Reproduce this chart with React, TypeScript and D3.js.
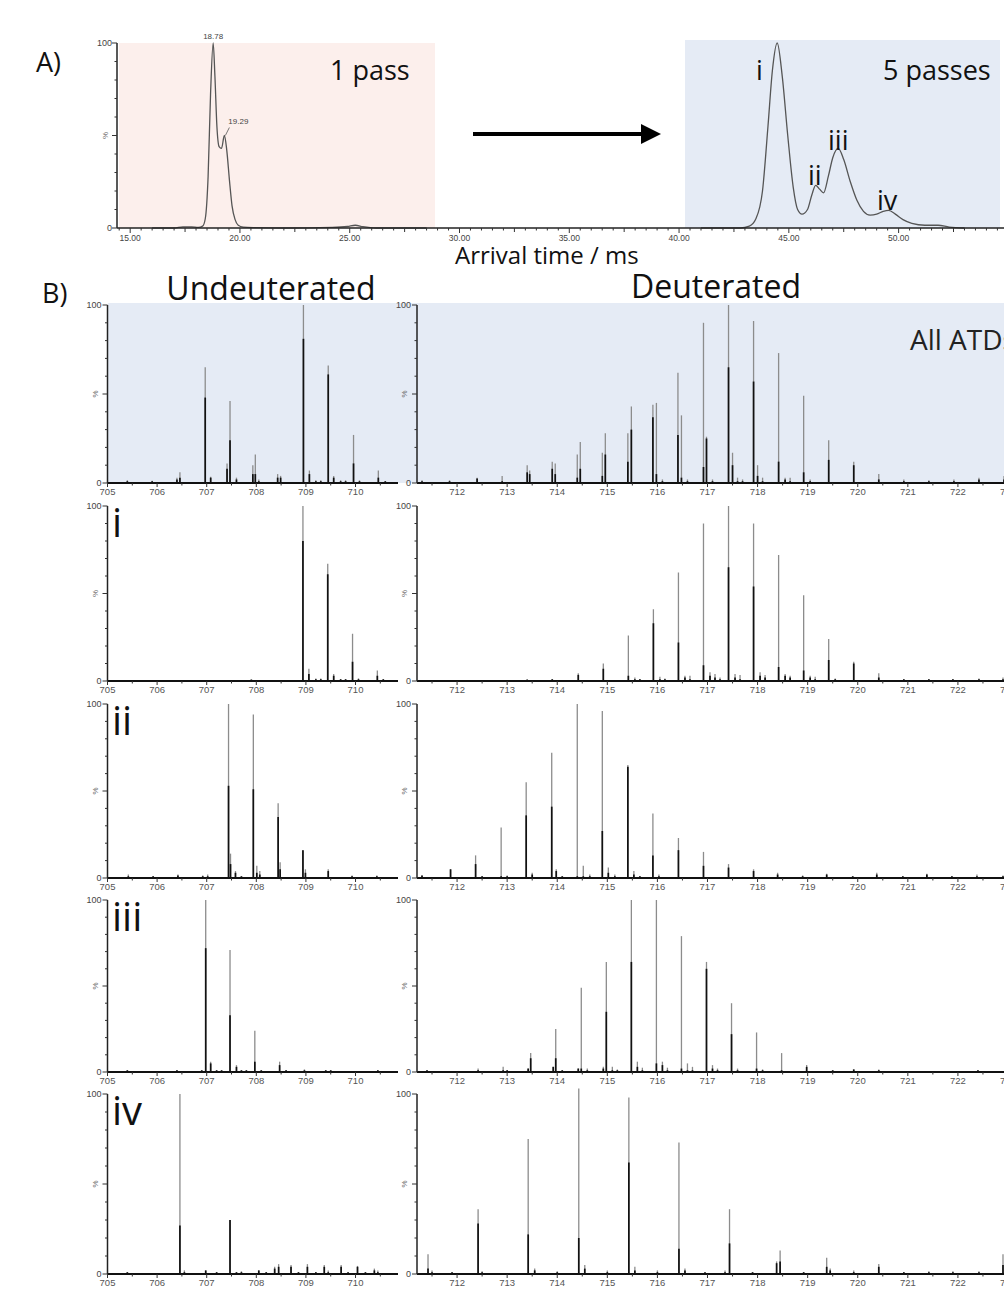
import React from 'react';
import * as d3 from 'd3';

const W = 1004;
const H = 1290;
const TXT = '"Open Sans", sans-serif';
const AX = '"Liberation Sans", Arial, sans-serif';

// ---- panel A: arrival time distributions ----
const onePassTime = [16.0, 17.0, 17.4, 17.8, 18.1, 18.3, 18.42, 18.55, 18.66, 18.78, 18.86, 18.95, 19.05, 19.16, 19.29, 19.4, 19.52, 19.64, 19.78, 19.92, 20.15, 20.6, 22.0, 24.2, 24.9, 25.25, 25.6, 26.2, 28.5];
const onePassInt = [0, 0, 0.6, 0.6, 0.3, 1, 5, 28, 72, 100, 82, 55, 44, 43, 50, 42, 26, 12, 4.5, 1.5, 0.5, 0.2, 0, 0.3, 0.8, 1.5, 0.7, 0, 0];

const fivePassTime = [41.0, 42.8, 43.2, 43.5, 43.8, 44.05, 44.25, 44.47, 44.7, 44.95, 45.2, 45.4, 45.6, 45.85, 46.05, 46.22, 46.4, 46.58, 46.8, 47.0, 47.25, 47.5, 47.8, 48.1, 48.4, 48.7, 49.0, 49.3, 49.55, 49.85, 50.2, 50.6, 51.2, 51.8, 52.3, 53.0];
const fivePassInt = [0, 0, 1, 5, 20, 55, 85, 100, 82, 50, 22, 10, 7.5, 10, 18, 23, 21, 19, 28, 38, 43, 37, 25, 15, 9, 7, 7.5, 9, 9.5, 7.5, 4.5, 2.5, 1.5, 1.5, 0.5, 0];

const atdTicks = [15, 20, 25, 30, 35, 40, 45, 50];

// ---- panel B: spectra, [m/z, full height %, dark part %] ----
const leftTicks = [705, 706, 707, 708, 709, 710];
const rightTicks = [712, 713, 714, 715, 716, 717, 718, 719, 720, 721, 722, 723];

const undAll = [
  [705.4, 1.5, 1], [705.9, 1.2, 1], [706.4, 3, 2], [706.46, 6, 3],
  [706.97, 65, 48], [707.08, 3.5, 3],
  [707.41, 11, 8], [707.47, 46, 24], [707.6, 3, 2],
  [707.93, 10, 5], [707.98, 16, 5], [708.05, 2, 1],
  [708.43, 5, 3], [708.49, 4, 3],
  [708.95, 100, 81], [709.07, 7, 5], [709.2, 1.5, 1], [709.3, 1.5, 1],
  [709.45, 66, 61], [709.56, 4, 3], [709.7, 1.5, 1], [709.8, 1.5, 1],
  [709.96, 27, 11], [710.08, 1.5, 1],
  [710.46, 7, 3], [710.6, 1, 1],
];
const deuAll = [
  [711.3, 1.5, 1], [711.85, 1.5, 1], [712.4, 3, 2.5], [712.9, 4, 1],
  [713.4, 10, 6], [713.45, 7, 5],
  [713.9, 12, 8], [713.96, 11, 5],
  [714.4, 16, 3], [714.46, 23, 8],
  [714.9, 17, 4], [714.96, 28, 16],
  [715.41, 28, 12], [715.48, 43, 30],
  [715.91, 44, 37], [715.98, 45, 5], [716.1, 2, 1],
  [716.41, 62, 27], [716.48, 38, 3], [716.6, 2, 1],
  [716.92, 90, 9], [716.98, 26, 25], [717.1, 2, 1],
  [717.42, 100, 65], [717.5, 17, 10], [717.6, 3, 1], [717.7, 2, 1],
  [717.92, 91, 57], [718.0, 10, 4], [718.1, 3, 1],
  [718.42, 73, 12], [718.55, 3, 2], [718.65, 3, 1],
  [718.92, 49, 6], [719.05, 2, 1],
  [719.42, 24, 13],
  [719.92, 12, 10],
  [720.42, 5, 2], [720.92, 2, 1], [721.42, 1.5, 1], [721.92, 2, 1], [722.42, 3, 2], [722.92, 4, 2],
];
const undI = [
  [705.4, 0.5, 0.5], [705.9, 0.5, 0.5], [706.4, 0.5, 0.5], [706.9, 0.5, 0.5], [707.4, 0.5, 0.5], [707.9, 0.8, 0.8], [708.4, 0.5, 0.5],
  [708.94, 100, 80], [709.06, 7, 4], [709.2, 1.5, 1], [709.3, 1.5, 1],
  [709.44, 67, 61], [709.56, 4, 3], [709.7, 1, 1], [709.8, 1, 1],
  [709.94, 27, 11], [710.06, 1.5, 1],
  [710.44, 6, 3], [710.56, 1, 1],
];
const deuI = [
  [712.4, 0.5, 0.5], [712.9, 0.5, 0.5], [713.4, 0.8, 0.8], [713.9, 1, 1],
  [714.42, 4.5, 3.5],
  [714.92, 10, 7],
  [715.42, 26, 3], [715.55, 2, 1], [715.65, 1, 1],
  [715.92, 41, 33], [716.05, 2.5, 1], [716.15, 1.5, 1],
  [716.42, 62, 22], [716.55, 3, 2], [716.65, 3, 1],
  [716.92, 90, 9], [717.05, 5, 3], [717.15, 4, 2], [717.25, 2, 1],
  [717.42, 100, 65], [717.55, 4, 2], [717.65, 3.5, 1],
  [717.92, 90, 54], [718.05, 5, 3], [718.15, 3.5, 2],
  [718.42, 72, 8], [718.55, 4, 3], [718.65, 3, 2],
  [718.92, 49, 6], [719.05, 3, 2], [719.15, 2.5, 1],
  [719.42, 24, 12], [719.55, 1.5, 1],
  [719.92, 11, 10],
  [720.42, 4.5, 2], [720.92, 1, 1], [721.42, 1, 1], [721.9, 1, 1], [722.42, 1.5, 1], [722.9, 2, 1],
];
const undII = [
  [705.42, 2, 1], [705.92, 1, 1], [706.42, 2, 1.5], [706.92, 1.5, 1], [707.02, 2, 1],
  [707.44, 100, 53], [707.48, 14, 8], [707.58, 4, 3], [707.7, 1, 1],
  [707.94, 94, 51], [708.01, 7, 3], [708.07, 4, 2],
  [708.44, 43, 35], [708.48, 9, 5],
  [708.94, 16, 16], [708.99, 5, 3],
  [709.45, 5, 4],
  [709.93, 1.5, 1], [710.43, 1.5, 1],
];
const deuII = [
  [711.3, 1.5, 1.5], [711.87, 5, 5],
  [712.37, 13, 8], [712.5, 1, 1],
  [712.88, 29, 1], [713.0, 1.5, 1],
  [713.38, 55, 36], [713.5, 3, 2],
  [713.89, 72, 41], [713.98, 5, 4], [714.1, 1, 1],
  [714.4, 100, 1], [714.52, 7, 1], [714.65, 2, 1],
  [714.9, 96, 27], [715.02, 6, 3], [715.15, 2, 1],
  [715.41, 65, 64], [715.53, 4, 2], [715.65, 1, 1],
  [715.91, 37, 13], [716.03, 2, 1],
  [716.42, 23, 16],
  [716.92, 15, 7],
  [717.42, 8, 6], [717.92, 5, 4], [718.4, 3, 2], [718.9, 1.5, 1], [719.38, 2.5, 2], [719.9, 1, 1],
  [720.38, 3, 2], [720.9, 1, 1], [721.38, 2.5, 2], [721.88, 1, 1], [722.38, 2, 1], [722.9, 1.5, 1],
];
const undIII = [
  [705.4, 1, 1], [705.9, 0.5, 0.5], [706.4, 1, 1], [706.9, 1, 1],
  [706.98, 100, 72], [707.08, 6, 5], [707.2, 1, 1], [707.3, 1, 1],
  [707.47, 71, 33], [707.6, 4, 3], [707.7, 1, 1], [707.8, 1, 1],
  [707.97, 24, 6], [708.1, 1, 1],
  [708.47, 6, 4], [708.6, 1, 1],
  [708.97, 1.5, 1], [709.4, 1, 1], [709.5, 1, 1], [709.9, 0.5, 0.5], [710.45, 1, 1],
];
const deuIII = [
  [711.4, 1, 1], [711.9, 0.5, 0.5], [712.42, 2, 1], [712.92, 3, 1], [713.0, 1, 1],
  [713.42, 2, 2], [713.47, 11, 8],
  [713.92, 3, 3], [713.97, 25, 8], [714.1, 1, 1],
  [714.42, 2, 2], [714.48, 49, 2], [714.6, 2, 1],
  [714.92, 3, 2], [714.98, 64, 35], [715.1, 3, 1], [715.2, 1.5, 1],
  [715.48, 100, 64], [715.6, 6, 3], [715.7, 2.5, 1],
  [715.98, 100, 5], [716.1, 6, 4], [716.2, 2.5, 1],
  [716.48, 79, 2], [716.6, 5, 1], [716.7, 3, 1],
  [716.98, 64, 60], [717.1, 4, 2], [717.2, 2, 1],
  [717.48, 40, 22], [717.6, 2, 1],
  [717.98, 23, 2], [718.1, 1.5, 1],
  [718.48, 11, 1],
  [718.98, 4, 3],
  [719.5, 1, 1], [719.92, 1.5, 1.5], [720.42, 1.5, 1], [720.92, 0.5, 0.5], [721.42, 0.5, 0.5], [721.92, 0.5, 0.5], [722.4, 1, 1],
];
const undIV = [
  [705.4, 1, 1], [705.9, 0.5, 0.5], [706.3, 0.5, 0.5],
  [706.46, 100, 27], [706.55, 2, 1],
  [706.98, 2, 2], [707.2, 1, 1],
  [707.47, 30, 30], [707.6, 1, 1], [707.7, 1.5, 1],
  [708.05, 2, 2], [708.2, 1, 1],
  [708.37, 4, 3], [708.45, 5.5, 4],
  [708.7, 5, 4], [708.85, 1, 1],
  [709.03, 5.5, 4], [709.2, 1, 1],
  [709.37, 5, 4], [709.45, 2, 1],
  [709.71, 5, 4], [709.85, 1, 1],
  [710.04, 4.5, 4], [710.2, 1, 1],
  [710.38, 3, 2], [710.45, 2, 1],
];
const deuIV = [
  [711.42, 11, 3], [711.5, 2, 1], [711.9, 1, 1],
  [712.42, 36, 28], [712.5, 1.5, 1], [712.9, 0.5, 0.5],
  [713.42, 75, 22], [713.55, 3, 2], [713.9, 0.5, 0.5],
  [714.0, 1.5, 1],
  [714.43, 103, 20], [714.55, 5, 3],
  [715.0, 2, 1],
  [715.43, 98, 62], [715.55, 4, 2],
  [716.0, 2, 1],
  [716.43, 73, 14], [716.55, 3, 2],
  [716.95, 1, 1], [717.35, 2, 1],
  [717.44, 36, 17],
  [717.9, 1, 1],
  [718.38, 7, 6], [718.45, 13, 7],
  [718.92, 1, 1],
  [719.38, 9, 4], [719.45, 3, 2],
  [719.92, 2, 1],
  [720.42, 5.5, 4],
  [720.92, 1, 1], [721.42, 1.5, 1], [721.9, 1.5, 1], [722.42, 1.5, 1],
  [722.9, 11, 5],
];

const rowLabels = ['', 'i', 'ii', 'iii', 'iv'];
const leftSpectra = [undAll, undI, undII, undIII, undIV];
const rightSpectra = [deuAll, deuI, deuII, deuIII, deuIV];
const rowTops = [305, 506, 704, 900, 1094];
const rowBases = [483, 681, 878, 1072, 1274];

function YAxis({ x, top, base, labelX }) {
  const y = d3.scaleLinear().domain([0, 100]).range([base, top]);
  return (
    <g>
      <line x1={x} x2={x} y1={base} y2={top} stroke="#222" strokeWidth={1.5} />
      {d3.range(0, 101, 10).map(v => (
        <line key={v} x1={x} x2={x - (v % 50 === 0 ? 5 : 2.5)} y1={y(v)} y2={y(v)} stroke="#333" strokeWidth={1} />
      ))}
      <text x={labelX} y={y(100) + 3} fontSize={9} fontFamily={AX} fill="#444" textAnchor="end">100</text>
      <text x={labelX} y={y(0) + 3} fontSize={9} fontFamily={AX} fill="#444" textAnchor="end">0</text>
      <text x={0} y={0} fontSize={8} fontFamily={AX} fill="#666" textAnchor="middle"
        transform={`translate(${labelX - 4},${y(50)}) rotate(-90)`}>%</text>
    </g>
  );
}

function Spectrum({ peaks, side, top, base }) {
  const left = side === 'L';
  const x = d3.scaleLinear()
    .domain(left ? [705, 710.8] : [711.2, 723])
    .range(left ? [107.5, 395.2] : [417, 1008]);
  const y = d3.scaleLinear().domain([0, 100]).range([base, top]);
  const ticks = left ? leftTicks : rightTicks;
  const [d0, d1] = x.domain();
  const minor = d3.range(Math.ceil(d0 * 2) / 2, d1, 0.5);
  const axisEnd = left ? 398 : 1004;
  return (
    <g>
      {peaks.map(([m, g], i) => (
        <line key={'g' + i} x1={x(m)} x2={x(m)} y1={base} y2={y(g)} stroke="#8c8c8c" strokeWidth={1.3} />
      ))}
      {peaks.map(([m, , b], i) => (
        <line key={'b' + i} x1={x(m)} x2={x(m)} y1={base} y2={y(b)} stroke="#111" strokeWidth={1.7} />
      ))}
      <line x1={x(d0)} x2={axisEnd} y1={base} y2={base} stroke="#111" strokeWidth={2} />
      {minor.map(v => (
        <line key={'m' + v} x1={x(v)} x2={x(v)} y1={base} y2={base + (Number.isInteger(v) ? 4 : 2.5)} stroke="#333" strokeWidth={1} />
      ))}
      {ticks.map(t => (
        <text key={t} x={x(t)} y={base + 12} fontSize={9.5} fontFamily={AX} fill="#555" textAnchor="middle">{t}</text>
      ))}
      <YAxis x={x(d0)} top={top} base={base} labelX={x(d0) - 6} />
    </g>
  );
}

function PanelA() {
  const x = d3.scaleLinear().domain([14.4, 54.8]).range([117, 1004]);
  const y = d3.scaleLinear().domain([0, 100]).range([228, 43]);
  const line1 = d3.line<number>().x((d, i) => x(onePassTime[i])).y(d => y(d)).curve(d3.curveMonotoneX);
  const line5 = d3.line<number>().x((d, i) => x(fivePassTime[i])).y(d => y(d)).curve(d3.curveMonotoneX);
  const minor = d3.range(14.5, 54.8, 0.5);
  return (
    <g>
      <rect x={119} y={43} width={316} height={185} fill="#fcefec" />
      <rect x={685} y={40} width={315} height={188} fill="#e5ebf5" />
      <path d={line1(onePassInt) || ''} fill="none" stroke="#555" strokeWidth={1.3} />
      <path d={line5(fivePassInt) || ''} fill="none" stroke="#555" strokeWidth={1.3} />
      <line x1={117} x2={1004} y1={228} y2={228} stroke="#222" strokeWidth={1.6} />
      {minor.map(v => (
        <line key={v} x1={x(v)} x2={x(v)} y1={228} y2={228 + (v % 5 === 0 ? 5 : v % 2.5 === 0 ? 4 : 2.5)} stroke="#333" strokeWidth={1} />
      ))}
      {atdTicks.map(t => (
        <text key={t} x={x(t)} y={241} fontSize={8.5} fontFamily={AX} fill="#444" textAnchor="middle">{t.toFixed(2)}</text>
      ))}
      <YAxis x={117} top={43} base={228} labelX={112} />
      <text x={x(18.78)} y={39} fontSize={8} fontFamily={AX} fill="#444" textAnchor="middle">18.78</text>
      <line x1={x(19.29) + 1} y1={y(50)} x2={x(19.29) + 5} y2={y(50) - 8} stroke="#555" strokeWidth={0.8} />
      <text x={x(19.29) + 4} y={124} fontSize={8} fontFamily={AX} fill="#444">19.29</text>
      <text x={330} y={80} fontSize={27} fontFamily={TXT} fill="#111">1 pass</text>
      <text x={883} y={80} fontSize={27} fontFamily={TXT} fill="#111">5 passes</text>
      <text x={756} y={80} fontSize={27} fontFamily={TXT} fill="#111">i</text>
      <text x={808} y={185} fontSize={27} fontFamily={TXT} fill="#111">ii</text>
      <text x={828} y={150} fontSize={27} fontFamily={TXT} fill="#111">iii</text>
      <text x={877} y={210} fontSize={27} fontFamily={TXT} fill="#111">iv</text>
      <defs>
        <marker id="arrowHead" markerWidth={5} markerHeight={5} refX={1} refY={2.5} orient="auto" markerUnits="strokeWidth">
          <path d="M0,0 L5,2.5 L0,5 Z" fill="#000" />
        </marker>
      </defs>
      <line x1={473} x2={645} y1={134} y2={134} stroke="#000" strokeWidth={4} markerEnd="url(#arrowHead)" />
      <text x={455} y={264} fontSize={24} fontFamily={TXT} fill="#111">Arrival time / ms</text>
      <text x={36} y={72} fontSize={27} fontFamily={TXT} fill="#111">A)</text>
    </g>
  );
}

export default function App() {
  return (
    <svg width={W} height={H} style={{ position: 'absolute', left: 0, top: 0, background: '#fff' }}>
      <PanelA />
      <text x={42} y={303} fontSize={27} fontFamily={TXT} fill="#111">B)</text>
      <text x={271} y={300} fontSize={32} fontFamily={TXT} fill="#111" textAnchor="middle">Undeuterated</text>
      <text x={716} y={298} fontSize={32} fontFamily={TXT} fill="#111" textAnchor="middle">Deuterated</text>
      <rect x={108} y={303} width={290} height={180} fill="#e5ebf5" />
      <rect x={398} y={303} width={606} height={180} fill="#e5ebf5" />
      {rowTops.map((top, r) => (
        <g key={r}>
          <Spectrum peaks={leftSpectra[r]} side="L" top={top} base={rowBases[r]} />
          <Spectrum peaks={rightSpectra[r]} side="R" top={top} base={rowBases[r]} />
          {rowLabels[r] && (
            <text x={112} y={top + 31} fontSize={40} fontFamily={TXT} fill="#111">{rowLabels[r]}</text>
          )}
        </g>
      ))}
      <text x={910} y={350} fontSize={28} fontFamily={TXT} fill="#222">All ATDs</text>
    </svg>
  );
}
